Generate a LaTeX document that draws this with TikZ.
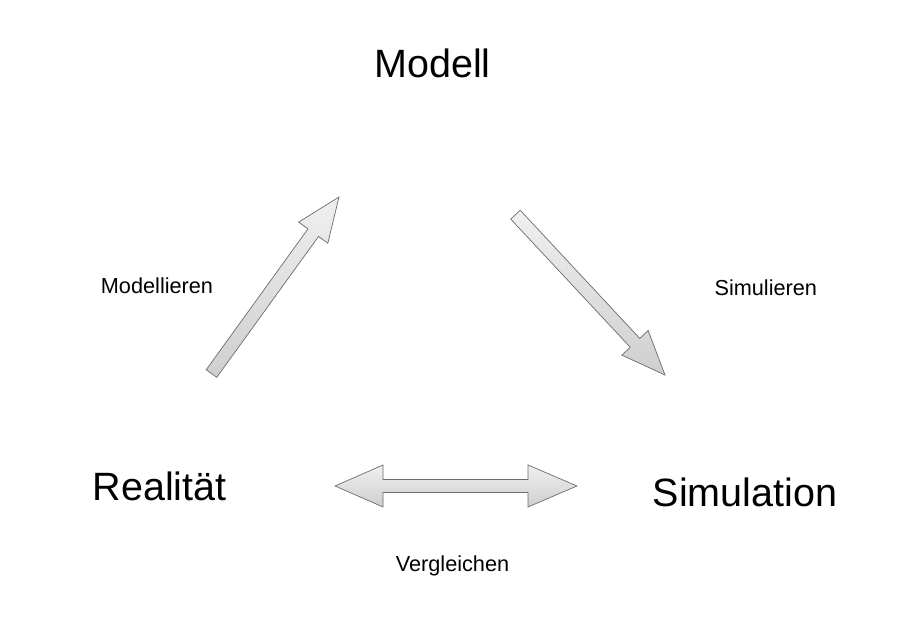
\documentclass[tikz,border=0pt]{standalone}
\usepackage{fontspec}
\setmainfont{Liberation Sans}
\usepackage{tikz}
\usepackage{xcolor}
\usetikzlibrary{calc}

\tikzset{
  blockarrow/.style={draw=gray!85!black, line width=0.7pt, line join=miter,
    top color=gray!12, bottom color=gray!38},
  bigtext/.style={anchor=base, font=\fontsize{39.5}{40}\selectfont},
  smalltext/.style={anchor=base, font=\fontsize{21.7}{22}\selectfont}
}

\newcommand\singleblock[2]{%
  \coordinate (#1h) at ($(#2)!44pt!(#1)$);
  \path[blockarrow] ($(#1)!6.5pt!90:(#2)$) -- ($(#1h)!6.5pt!90:(#2)$)
    -- ($(#1h)!18pt!90:(#2)$) -- (#2) -- ($(#1h)!18pt!-90:(#2)$)
    -- ($(#1h)!6.5pt!-90:(#2)$) -- ($(#1)!6.5pt!-90:(#2)$) -- cycle;}

\newcommand\doubleblock[2]{%
  \coordinate (#1h) at ($(#1)!48pt!(#2)$);
  \coordinate (#2h) at ($(#2)!49pt!(#1)$);
  \path[blockarrow] (#1) -- ($(#1h)!21pt!90:(#2)$) -- ($(#1h)!6.5pt!90:(#2)$)
    -- ($(#2h)!6.5pt!-90:(#1)$) -- ($(#2h)!21pt!-90:(#1)$) -- (#2)
    -- ($(#2h)!21pt!90:(#1)$) -- ($(#2h)!6.5pt!90:(#1)$)
    -- ($(#1h)!6.5pt!-90:(#2)$) -- ($(#1h)!21pt!-90:(#2)$) -- cycle;}

\begin{document}
\begin{tikzpicture}[x=1pt, y=-1pt]
            \useasboundingbox (0,0) rectangle (914,621);

            \node[bigtext]   (modell)     at (432.5,77)  {Modell};
            \node[bigtext]   (realitaet)  at (159.7,500) {Realität};
            \node[bigtext]   (simulation) at (745,506.7) {Simulation};

            \node[smalltext] (modellieren) at (157,293.3)   {Modellieren};
            \node[smalltext] (simulieren)  at (765.8,295)   {Simulieren};
            \node[smalltext] (vergleichen) at (452.5,571.7) {Vergleichen};

            \coordinate (modA) at (211.5,373.5);
            \coordinate (modB) at (339,197);
            \coordinate (simA) at (515.5,214.7);
            \coordinate (simB) at (665,375);
            \coordinate (vglA) at (335,486);
            \coordinate (vglB) at (577,486);

            \singleblock{modA}{modB}
            \singleblock{simA}{simB}
            \doubleblock{vglA}{vglB}
        \end{tikzpicture}
\end{document}
